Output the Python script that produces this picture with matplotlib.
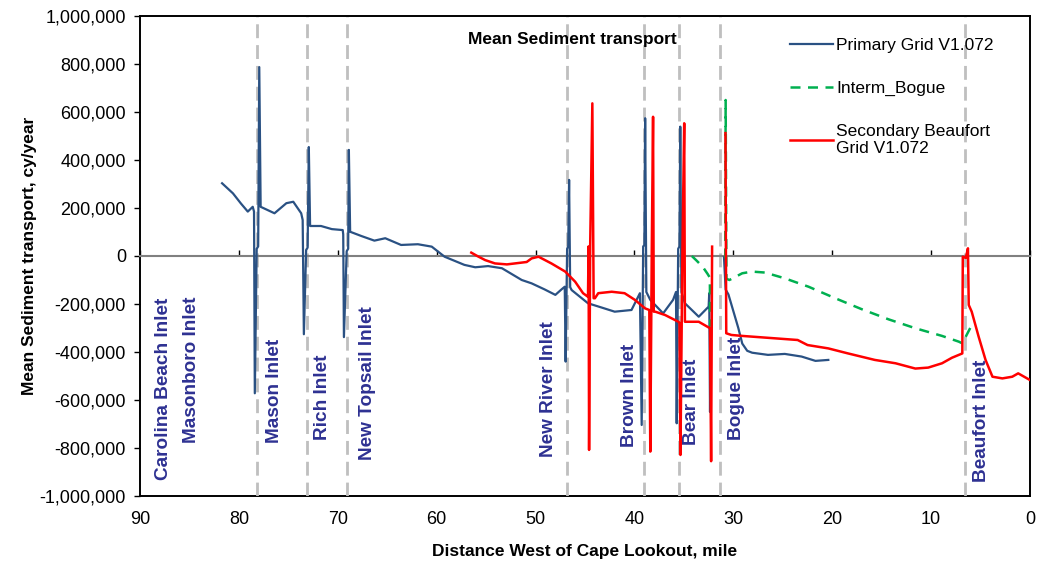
import matplotlib
matplotlib.use("Agg")
import matplotlib.pyplot as plt
import numpy as np
from matplotlib.ticker import FuncFormatter

plt.rcParams["font.family"] = ["Liberation Sans", "DejaVu Sans"]

nan = np.nan

# Primary Grid V1.072 (mile west of Cape Lookout, cy/year)
primary_mile = [81.7, 80.6, 79.8, 79.1, 78.6, 78.47, 78.39, 78.2, 78.05, 77.94, 77.8, 76.4,
                75.2, 74.5, 73.7, 73.55, 73.43, 73.2, 73.05, 72.93, 72.8, 72.7, 71.7, 70.6,
                69.5, 69.45, 69.38, 69.1, 68.95, 68.88, 68.75, 67.6, 66.3, 65.2, 63.6, 61.9,
                60.5, 59.2, 57.2, 56.1, 54.8, 53.4, 51.4, 50.4, 49.1, 48.0, 47.4, 47.05,
                46.96, 46.81, 46.7, 46.61, 46.5, 46.35, 44.7, 43.3, 42.0, 40.3, 39.45,
                39.27, 39.12, 39.0, 38.92, 38.8, 38.4, 37.1, 36.1, 35.8, 35.73, 35.58,
                35.45, 35.37, 35.25, 34.9, 33.5, 32.5, 32.44, 32.36, 32.3, nan,
                30.95, 30.78, 30.5, 30.0, 29.5, 29.1, 28.6, 28.1, 26.5, 24.8, 23.1, 21.7, 20.4]
primary_val = [303e3, 261e3, 219e3, 185e3, 205e3, 185e3, -572e3, 30e3, 40e3, 787e3, 205e3, 178e3,
               220e3, 226e3, 178e3, 150e3, -326e3, 25e3, 35e3, 454e3, 125e3, 125e3, 125e3, 112e3,
               108e3, 90e3, -338e3, 20e3, 30e3, 442e3, 101e3, 83e3, 64e3, 74e3, 46e3, 49e3,
               39e3, -3e3, -37e3, -47e3, -42e3, -51e3, -100e3, -114e3, -139e3, -162e3, -140e3, -128e3,
               -440e3, 30e3, 40e3, 317e3, -130e3, -142e3, -197e3, -215e3, -232e3, -225e3, -155e3,
               -704e3, 40e3, 45e3, 574e3, -150e3, -183e3, -239e3, -183e3, -150e3, -697e3, 30e3,
               40e3, 539e3, -150e3, -197e3, -253e3, -211e3, -155e3, -650e3, -300e3, nan,
               -5e3, -140e3, -160e3, -230e3, -300e3, -365e3, -395e3, -403e3, -412e3, -408e3, -419e3, -437e3, -433e3]

# Interm_Bogue
bogue_mile = [34.2, 33.7, 33.1, 32.6, 32.38, 32.34, nan, 30.82, 30.78, 30.7, 30.4, 29.1, 28.1,
              26.8, 24.8, 22.4, 19.7, 17.0, 14.3, 11.6, 8.9, 7.2, 6.85, 6.05]
bogue_val = [0, -20e3, -45e3, -75e3, -90e3, -294e3, nan, -10e3, 650e3, -95e3, -100e3, -72e3, -65e3,
             -69e3, -93e3, -128e3, -176e3, -222e3, -264e3, -301e3, -333e3, -357e3, -364e3, -300e3]

# Secondary Beaufort Grid V1.072
beaufort_mile = [56.5, 55.9, 55.1, 54.1, 52.9, 51.9, 50.9, 50.4, 49.7, 48.4, 47.0, 46.0, 45.2,
                 44.7, 44.64, 44.59, 44.48, 44.26, 44.13, 44.0, 43.66, 42.3, 41.0, 39.95, 38.94,
                 38.5, 38.4, 38.25, 38.12, 38.05, 37.9, 36.9, 35.56, 35.45, 35.35, 35.15, 34.97,
                 34.9, 33.5, 32.36, 32.25, 32.15, nan, 30.8, 30.72, 30.2, 29.1, 25.8, 23.5, 22.5,
                 20.4, 18.4, 15.7, 13.6, 11.6, 10.3, 8.9, 7.9, 6.85, 6.8, 6.5, 6.28, 6.2, 5.9,
                 5.2, 4.5, 3.8, 2.8, 1.8, 1.2, 0.6, 0.0]
beaufort_val = [14e3, 0, -17e3, -31e3, -35e3, -30e3, -25e3, -10e3, -3e3, -31e3, -65e3, -107e3, -155e3,
                -170e3, 40e3, -808e3, 40e3, 636e3, -176e3, -176e3, -155e3, -149e3, -155e3, -183e3, -218e3,
                -225e3, -815e3, 30e3, 580e3, -232e3, -232e3, -246e3, -274e3, -278e3, -829e3, 30e3, 553e3,
                -274e3, -274e3, -301e3, -855e3, 39e3, nan, 512e3, -322e3, -329e3, -333e3, -343e3, -350e3, -371e3,
                -385e3, -406e3, -433e3, -447e3, -469e3, -465e3, -447e3, -424e3, -406e3, -3e3, -8e3, 32e3, -204e3, -232e3,
                -336e3, -433e3, -503e3, -510e3, -503e3, -489e3, -503e3, -517e3]

inlet_lines = [78.17, 73.1, 69.1, 46.8, 39.0, 35.5, 31.4, 6.6]
inlet_names = ["Carolina Beach Inlet", "Masonboro Inlet", "Mason Inlet", "Rich Inlet",
               "New Topsail Inlet", "New River Inlet", "Brown Inlet", "Bear Inlet",
               "Bogue Inlet", "Beaufort Inlet"]
# label placement (x in mile, bottom of text in cy/year)
inlet_label_x = [87.6, 84.8, 76.4, 71.5, 67.0, 48.7, 40.5, 34.2, 29.7, 4.9]
inlet_label_y = [-933e3, -779e3, -779e3, -767e3, -850e3, -836e3, -795e3, -787e3, -767e3, -940e3]

xticks = [90, 80, 70, 60, 50, 40, 30, 20, 10, 0]
yticks = np.arange(-1000000, 1000001, 200000)

fig = plt.figure(figsize=(10.37, 5.63), dpi=100)
ax = fig.add_axes([0.135, 0.119, 0.8583, 0.8526])

for m in inlet_lines:
    ax.axvline(m, color="#BFBFBF", lw=2, ls=(0, (5, 2.5)), zorder=1)

ax.plot(primary_mile, primary_val, color="#2A5183", lw=1.6, label="Primary Grid V1.072", zorder=3)
ax.plot(bogue_mile, bogue_val, color="#00B050", lw=1.8, ls=(0, (4, 3)), label="Interm_Bogue", zorder=3)
ax.plot(beaufort_mile, beaufort_val, color="#FF0000", lw=1.8, label="Secondary Beaufort\nGrid V1.072", zorder=4)

ax.set_xlim(90, 0)
ax.set_ylim(-1000000, 1000000)
ax.set_yticks(yticks)
ax.yaxis.set_major_formatter(FuncFormatter(lambda v, p: f"{int(v):,}"))
ax.tick_params(axis="y", direction="out", length=4, width=1, pad=6, labelsize=13, colors="black")

# zero line with tick marks, labels at the bottom frame
ax.set_xticks(xticks)
ax.spines["bottom"].set_position(("data", 0))
ax.spines["bottom"].set_color("#808080")
ax.spines["bottom"].set_linewidth(1.5)
ax.tick_params(axis="x", direction="in", length=4, width=1, labelbottom=False)
for s in ["top", "left", "right"]:
    ax.spines[s].set_linewidth(1.4)
    ax.spines[s].set_color("black")

sec = ax.secondary_xaxis("bottom")
sec.set_xticks(xticks)
sec.tick_params(length=0, pad=11, labelsize=13)
sec.spines["bottom"].set_linewidth(1.4)

ax.set_ylabel("Mean Sediment transport, cy/year", fontsize=12.5, fontweight="bold")
ax.yaxis.set_label_coords(-0.1157, 0.5)
ax.set_xlabel("Distance West of Cape Lookout, mile", fontsize=12.5, fontweight="bold")
ax.xaxis.set_label_coords(0.5, -0.1)

ax.text(0.4854, 0.95, "Mean Sediment transport", transform=ax.transAxes, ha="center",
        va="center", fontsize=12.5, fontweight="bold")

for name, lx, ly in zip(inlet_names, inlet_label_x, inlet_label_y):
    ax.text(lx, ly, name, rotation=90, ha="center", va="bottom", fontsize=13.7,
            fontweight="bold", color="#2E3192", zorder=5)

ax.legend(loc="upper left", bbox_to_anchor=(0.7303, 0.954), frameon=False, fontsize=12.5,
          handlelength=2.5, handletextpad=0.15, labelspacing=1.6, borderpad=0, borderaxespad=0)

fig.savefig("out.png", dpi=100)
